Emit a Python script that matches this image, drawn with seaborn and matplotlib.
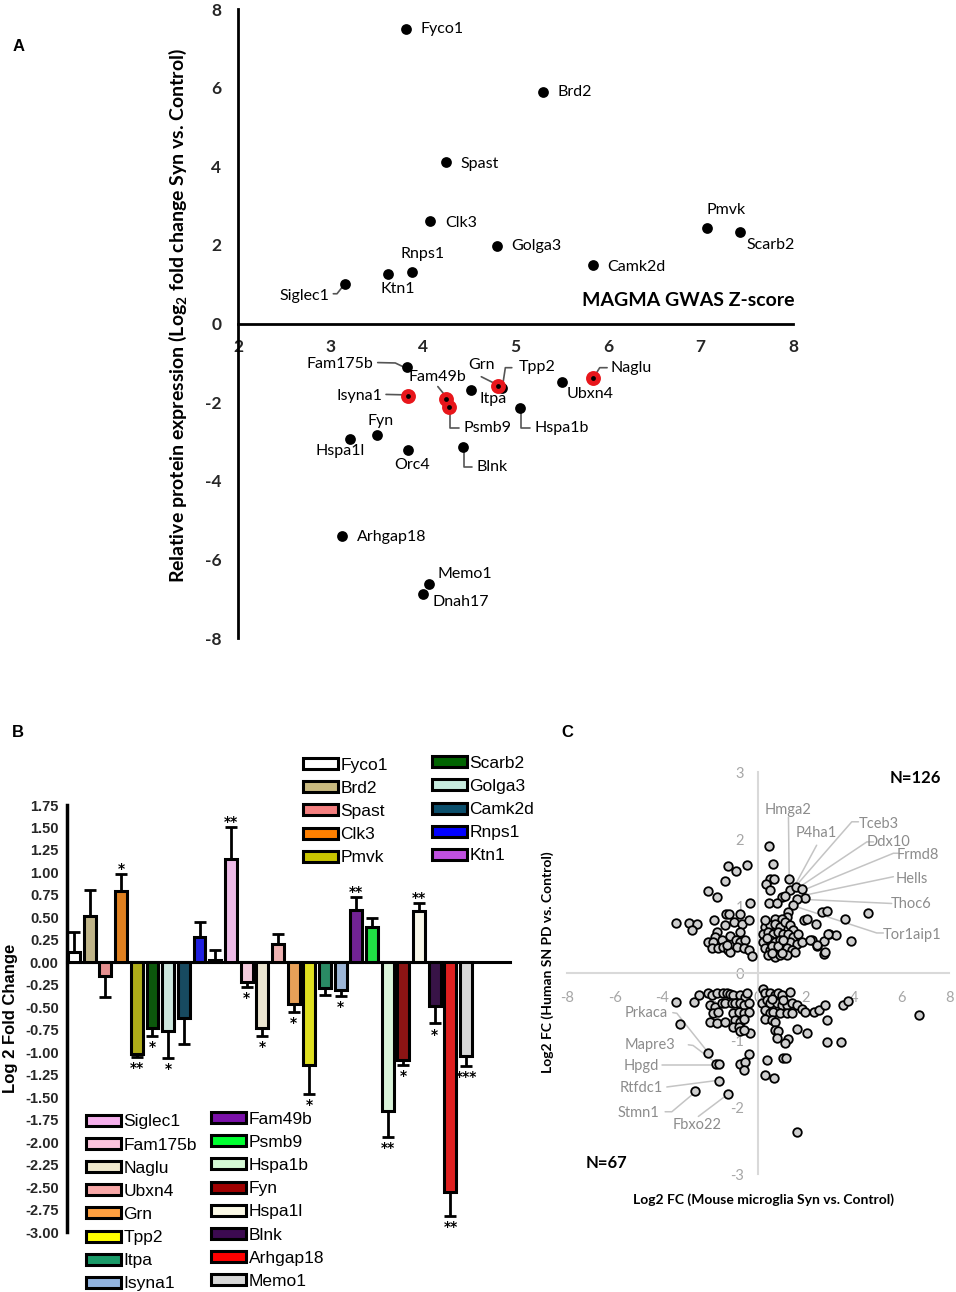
import numpy as np
import pandas as pd
import matplotlib
matplotlib.use('Agg')
import matplotlib.pyplot as plt
from matplotlib.patches import Patch
import seaborn as sns

# ------------------ Panel A data: MAGMA Z-score vs log2 FC ------------------
a_genes = ['Fyco1', 'Brd2', 'Spast', 'Clk3', 'Golga3', 'Camk2d', 'Pmvk', 'Scarb2',
           'Rnps1', 'Ktn1', 'Siglec1', 'Fam175b', 'Isyna1', 'Fam49b', 'Psmb9', 'Itpa',
           'Grn', 'Tpp2', 'Ubxn4', 'Naglu', 'Hspa1b', 'Fyn', 'Hspa1l', 'Orc4', 'Blnk',
           'Arhgap18', 'Memo1', 'Dnah17']
a_z = [3.82, 5.30, 4.25, 4.08, 4.80, 5.84, 7.07, 7.43,
       3.88, 3.62, 3.16, 3.83, 3.84, 4.25, 4.28, 4.52,
       4.81, 4.85, 5.50, 5.84, 5.05, 3.50, 3.21, 3.84, 4.43,
       3.12, 4.06, 4.00]
a_fc = [7.48, 5.90, 4.10, 2.60, 1.98, 1.48, 2.44, 2.32,
        1.32, 1.25, 1.02, -1.09, -1.83, -1.91, -2.11, -1.70,
        -1.58, -1.63, -1.48, -1.37, -2.14, -2.82, -2.93, -3.21, -3.13,
        -5.39, -6.62, -6.87]
a_red = ['Isyna1', 'Fam49b', 'Psmb9', 'Grn', 'Naglu']

# ------------------ Panel B data: log2 fold change bars ------------------
b_genes = ['Fyco1', 'Brd2', 'Spast', 'Clk3', 'Pmvk', 'Scarb2', 'Golga3', 'Camk2d',
           'Rnps1', 'Ktn1', 'Siglec1', 'Fam175b', 'Naglu', 'Ubxn4', 'Grn', 'Tpp2',
           'Itpa', 'Isyna1', 'Fam49b', 'Psmb9', 'Hspa1b', 'Fyn', 'Hspa1l', 'Blnk',
           'Arhgap18', 'Memo1']
b_values = [0.12, 0.52, -0.15, 0.79, -1.02, -0.73, -0.76, -0.62,
            0.28, 0.03, 1.15, -0.22, -0.73, 0.20, -0.46, -1.14,
            -0.28, -0.31, 0.58, 0.39, -1.65, -1.09, 0.57, -0.48,
            -2.56, -1.04]
b_err = [0.22, 0.28, 0.24, 0.19, 0.03, 0.09, 0.30, 0.29,
         0.17, 0.11, 0.36, 0.05, 0.09, 0.11, 0.09, 0.32,
         0.08, 0.06, 0.15, 0.10, 0.29, 0.05, 0.09, 0.20,
         0.26, 0.11]
b_stars = ['', '', '', '*', '**', '*', '*', '',
           '', '', '**', '*', '*', '', '*', '*',
           '', '*', '**', '', '**', '*', '**', '*',
           '**', '***']
b_colors = ['#ffffff', '#c8b97f', '#f48080', '#ff8000', '#c8c400', '#006400', '#c8ecdf', '#0b4f6c',
            '#0000ff', '#c050e0', '#f5b0ec', '#fbc3dc', '#efe8cc', '#f8a8a8', '#ffa040', '#ffff00',
            '#1a9a68', '#92b4e0', '#7a10a8', '#00ff30', '#d4f8d4', '#a00000', '#fbf9e6', '#3c0a50',
            '#ff0000', '#d8d8d8']

# ------------------ Panel C data: mouse vs human log2 FC ------------------
c_x = [-3.43, -2.90, -2.57, -2.77, -2.11, -1.73, -1.37, -1.24, -0.93, -0.47, -0.33,
       -1.84, -1.34, -1.20, -0.75, -1.00, -0.68, -0.40, -1.38,
       -0.75, -1.73, -1.80, -1.17, -2.08, -1.87, -1.52, -0.94, -0.75, -0.54,
       -1.94, -1.66, -1.45, -1.24, -1.17, -0.89, -0.61, -0.40, -0.26, -1.31,
       0.47, 0.64, 0.50, 0.66, 0.33, 1.31, 1.34, 1.59, 1.83, 1.97, 1.62, 1.00, 0.50,
       0.47, 0.78, 1.13, 1.48, 1.27, 1.20, 1.90, 2.04, 2.43, 2.66, 2.87, 3.64, 4.60,
       2.95, 3.25, 2.25, 2.74, 3.88, 2.46, 2.77,
       0.71, 0.99, 0.29, 0.50, 0.71, 0.92, 1.13, 1.34, 1.48,
       0.22, 0.43, 0.64, 0.85, 1.06, 1.27, 1.48, 1.69,
       0.22, 0.50, 0.71, 0.92, 1.13, 1.34, 1.62, 1.83,
       0.29, 0.50, 0.78, 0.99, 1.20, 1.41, 1.55,
       0.43, 0.71, 0.92, 1.20, 2.18, 2.46, 2.80, 2.94,
       0.36, 0.57, 0.85, 1.06, 0.30, 0.60, 1.00,
       -3.44, -3.26, -2.70, -2.47,
       -2.08, -1.94, -1.73, -1.45, -1.31, -1.17, -1.03, -0.75, -0.54, -0.47,
       -2.01, -1.80, -1.52, -1.38, -1.10, -0.96, -0.75, -0.61, -0.40,
       -1.87, -1.66, -1.03, -0.82, -0.61, -0.40,
       -2.01, -1.73, -1.38, -0.96, -0.75, -0.61,
       -1.03, -0.82, -0.75, -0.33, -0.61,
       -0.40, -0.75, -0.54, -0.61,
       -2.08, -1.76, -1.62, -1.63, -2.64, -1.24,
       0.22, 0.29, 0.50, 0.71, 0.85, 0.99, 1.34,
       0.15, 0.36, 0.50, 0.78, 0.99, 1.20, 1.41, 1.62,
       1.83, 1.97, 2.32, 2.53, 2.80, 3.57, 3.78,
       0.29, 0.50, 0.64, 0.92, 1.20, 1.41,
       0.29, 0.57, 0.71, 2.87,
       0.71, 0.85, 1.62, 2.04,
       0.78, 1.27, 1.13, 2.87, 3.47,
       0.36, 1.03, 1.18, 0.29, 0.68,
       6.75, 1.62, 0.60, 1.05]
c_y = [0.75, 0.75, 0.74, 0.65, 1.23, 1.13, 1.38, 1.60, 1.53, 1.62, 1.04,
       0.79, 0.89, 0.89, 0.89, 0.77, 0.74, 0.79, 0.72,
       0.62, 0.62, 0.54, 0.56, 0.47, 0.47, 0.49, 0.49, 0.47, 0.49,
       0.37, 0.37, 0.39, 0.34, 0.32, 0.39, 0.37, 0.34, 0.25, 0.42,
       1.90, 1.63, 1.41, 1.40, 1.33, 1.41, 1.24, 1.29, 1.26, 1.12, 1.10, 1.13, 1.24,
       1.04, 1.04, 1.15, 1.01, 0.91, 0.84, 0.79, 0.81, 0.74, 0.92, 0.93, 0.81, 0.90,
       0.59, 0.57, 0.49, 0.48, 0.48, 0.40, 0.29,
       0.81, 0.81, 0.69, 0.72, 0.74, 0.69, 0.76, 0.72, 0.64,
       0.59, 0.62, 0.59, 0.62, 0.59, 0.59, 0.54, 0.59,
       0.47, 0.49, 0.47, 0.49, 0.44, 0.47, 0.44, 0.47,
       0.37, 0.34, 0.37, 0.34, 0.37, 0.34, 0.32,
       0.27, 0.24, 0.27, 0.27, 0.49, 0.42, 0.32, 0.59,
       0.53, 0.40, 0.41, 0.50, 0.80, 0.30, 0.30,
       -0.43, -0.76, -0.43, -0.33,
       -0.30, -0.33, -0.30, -0.29, -0.30, -0.31, -0.33, -0.33, -0.35, -0.30,
       -0.48, -0.50, -0.44, -0.45, -0.44, -0.45, -0.44, -0.48, -0.45,
       -0.60, -0.58, -0.60, -0.58, -0.60, -0.58,
       -0.73, -0.74, -0.73, -0.70, -0.73, -0.68,
       -0.80, -0.80, -0.86, -0.89, -0.85,
       -1.21, -1.35, -1.33, -1.44,
       -1.20, -1.36, -1.35, -1.61, -1.76, -1.80,
       -0.23, -0.30, -0.30, -0.33, -0.30, -0.33, -0.28,
       -0.44, -0.40, -0.45, -0.45, -0.48, -0.48, -0.45, -0.48,
       -0.53, -0.58, -0.58, -0.55, -0.48, -0.48, -0.41,
       -0.55, -0.60, -0.58, -0.60, -0.60, -0.60,
       -0.68, -0.70, -0.73, -0.70,
       -0.85, -0.87, -0.84, -0.90,
       -0.97, -0.99, -1.04, -1.03, -1.03,
       -1.30, -1.26, -1.26, -1.52, -1.57,
       -0.63, -2.37, -0.38, -0.40]

# labelled genes in panel C: (text, text position, leader line points)
c_labels = [
    ('Hmga2', (1.27, 2.43), [(1.27, 2.33), (1.30, 1.43)]),
    ('P4ha1', (2.45, 2.09), [(2.45, 1.91), (1.51, 1.29)]),
    ('Tceb3', (5.03, 2.23), [(4.20, 2.26), (3.92, 2.26), (1.55, 1.29)]),
    ('Ddx10', (5.45, 1.96), [(4.83, 1.96), (4.55, 1.96), (1.62, 1.26)]),
    ('Frmd8', (6.70, 1.77), [(5.87, 1.79), (5.66, 1.79), (1.83, 1.23)]),
    ('Hells', (6.43, 1.41), [(5.66, 1.44), (1.90, 1.16)]),
    ('Thoc6', (6.39, 1.03), [(5.59, 1.04), (1.97, 1.10)]),
    ('Tor1aip1', (6.43, 0.57), [(5.24, 0.60), (4.96, 0.60), (1.62, 0.99)]),
    ('Prkaca', (-4.66, -0.59), [(-3.57, -0.59), (-3.40, -0.60), (-2.08, -1.19)]),
    ('Mapre3', (-4.52, -1.07), [(-2.92, -1.07), (-2.72, -1.08), (-1.76, -1.34)]),
    ('Hpgd', (-4.87, -1.39), [(-4.03, -1.37), (-1.73, -1.37)]),
    ('Rtfdc1', (-4.87, -1.71), [(-3.82, -1.70), (-1.66, -1.60)]),
    ('Stmn1', (-5.00, -2.09), [(-3.89, -2.07), (-3.61, -2.07), (-2.71, -1.80)]),
    ('Fbxo22', (-2.56, -2.27), [(-2.50, -2.14), (-1.31, -1.82)]),
]

# ------------------ style ------------------
sns.set_style('white')
plt.rcParams['font.family'] = ['Lato', 'DejaVu Sans']
plt.rcParams['axes.edgecolor'] = 'black'
plt.rcParams['text.color'] = 'black'
plt.rcParams['axes.unicode_minus'] = False

fig = plt.figure(figsize=(9.56, 12.92), dpi=100)

# =================== Panel A ===================
ax_a = fig.add_axes([0.249, 0.506, 0.5805, 0.487])
df_a = pd.DataFrame({'gene': a_genes, 'z': a_z, 'fc': a_fc})
sns.scatterplot(data=df_a, x='z', y='fc', color='black', s=60, edgecolor='black',
                linewidth=0, ax=ax_a, legend=False, zorder=3)
df_red = df_a[df_a['gene'].isin(a_red)]
sns.scatterplot(data=df_red, x='z', y='fc', color='#e8161b', s=115, linewidth=0,
                ax=ax_a, legend=False, zorder=4)
sns.scatterplot(data=df_red, x='z', y='fc', color='black', s=12, linewidth=0,
                ax=ax_a, legend=False, zorder=5)

ax_a.set_xlim(2, 8)
ax_a.set_ylim(-8, 8)
ax_a.spines['top'].set_visible(False)
ax_a.spines['right'].set_visible(False)
ax_a.spines['bottom'].set_position(('data', 0))
for sp in ['left', 'bottom']:
    ax_a.spines[sp].set_linewidth(2)
ax_a.set_xticks(range(2, 9))
ax_a.set_xticklabels([str(t) for t in range(2, 9)], fontweight='bold', fontsize=12.5)
ax_a.set_yticks(range(-8, 9, 2))
ax_a.set_yticklabels([str(t) for t in range(-8, 9, 2)], fontweight='bold', fontsize=12.5)
ax_a.tick_params(axis='x', direction='in', length=7, width=2, pad=11)
ax_a.tick_params(axis='y', direction='in', length=7, width=2, pad=12)
ax_a.set_xlabel('')
ax_a.set_ylabel('')

# gene label positions (text anchor, alignment)
a_label_pos = {
    'Fyco1': (3.97, 7.48, 'left'), 'Brd2': (5.45, 5.90, 'left'), 'Spast': (4.40, 4.07, 'left'),
    'Clk3': (4.24, 2.57, 'left'), 'Golga3': (4.95, 1.98, 'left'), 'Camk2d': (5.99, 1.45, 'left'),
    'Pmvk': (7.28, 2.90, 'center'), 'Scarb2': (7.76, 2.01, 'center'), 'Rnps1': (4.00, 1.78, 'center'),
    'Ktn1': (3.73, 0.89, 'center'), 'Siglec1': (2.99, 0.71, 'right'), 'Fam175b': (3.46, -1.02, 'right'),
    'Isyna1': (3.56, -1.83, 'right'), 'Fam49b': (4.15, -1.35, 'center'), 'Grn': (4.63, -1.04, 'center'),
    'Tpp2': (5.03, -1.09, 'left'), 'Naglu': (6.03, -1.12, 'left'), 'Itpa': (4.61, -1.91, 'left'),
    'Ubxn4': (5.55, -1.78, 'left'), 'Psmb9': (4.44, -2.65, 'left'), 'Hspa1b': (5.21, -2.65, 'left'),
    'Fyn': (3.54, -2.47, 'center'), 'Hspa1l': (3.10, -3.23, 'center'), 'Orc4': (3.88, -3.59, 'center'),
    'Blnk': (4.58, -3.64, 'left'), 'Arhgap18': (3.29, -5.42, 'left'), 'Memo1': (4.16, -6.36, 'left'),
    'Dnah17': (4.10, -7.07, 'left'),
}
for g in a_genes:
    tx, ty, ha = a_label_pos[g]
    ax_a.text(tx, ty, g, ha=ha, va='center', fontsize=11.5, color='black')

a_leaders = [
    [(3.03, 0.76), (3.07, 0.76), (3.14, 0.97)],
    [(3.51, -0.99), (3.70, -1.00), (3.78, -1.09)],
    [(3.60, -1.80), (3.79, -1.81)],
    [(4.16, -1.60), (4.25, -1.86)],
    [(4.63, -1.35), (4.80, -1.55)],
    [(4.86, -1.58), (4.89, -1.12), (4.96, -1.12)],
    [(5.85, -1.35), (5.91, -1.12), (5.99, -1.12)],
    [(4.29, -2.19), (4.29, -2.65), (4.39, -2.65)],
    [(5.06, -2.21), (5.06, -2.65), (5.16, -2.65)],
    [(4.44, -3.21), (4.44, -3.64), (4.53, -3.64)],
]
for pts in a_leaders:
    xs, ys = zip(*pts)
    ax_a.plot(xs, ys, color='#555555', lw=1.2, zorder=2)

ax_a.text(8.02, 0.59, 'MAGMA GWAS Z-score', ha='right', va='center',
          fontsize=14, fontweight='bold')
fig.text(0.186, 0.756, 'Relative protein expression (Log$_\\mathregular{2}$ fold change Syn vs. Control)',
         rotation=90, ha='center', va='center', fontsize=14, fontweight='bold')

# =================== Panel B ===================
ax_b = fig.add_axes([0.0701, 0.0464, 0.4634, 0.3305])
df_b = pd.DataFrame({'gene': b_genes, 'value': b_values, 'err': b_err, 'stars': b_stars})
sns.barplot(data=df_b, x='gene', y='value', hue='gene', order=b_genes,
            palette=dict(zip(b_genes, b_colors)), legend=False, width=0.76,
            edgecolor='black', linewidth=2.2, ax=ax_b, zorder=3)
pos = np.arange(len(b_genes))
vals = df_b['value'].to_numpy()
errs = df_b['err'].to_numpy()
lower = np.where(vals < 0, errs, 0)
upper = np.where(vals >= 0, errs, 0)
ax_b.errorbar(pos, vals, yerr=[lower, upper], fmt='none', ecolor='black',
              elinewidth=2, capsize=4, capthick=2, zorder=2)
# significance stars just beyond the error bar end
for i, (v, e, s) in enumerate(zip(vals, errs, b_stars)):
    if not s:
        continue
    y = v + e + 0.01 if v >= 0 else v - e - 0.17
    ax_b.text(i, y, s, ha='center', va='baseline', fontsize=10,
              fontweight='bold', family='DejaVu Sans')

ax_b.set_xlim(-0.45, 27.8)
ax_b.set_ylim(-3.0, 1.75)
ax_b.spines['top'].set_visible(False)
ax_b.spines['right'].set_visible(False)
ax_b.spines['bottom'].set_position(('data', 0))
ax_b.spines['bottom'].set_linewidth(2.2)
ax_b.spines['left'].set_linewidth(2.5)
ax_b.set_xticks([])
b_ticks = np.arange(-3.0, 1.76, 0.25)
ax_b.set_yticks(b_ticks)
ax_b.set_yticklabels([f'{t:.2f}' for t in b_ticks], fontweight='bold', fontsize=10.5,
                     family=['Liberation Sans', 'DejaVu Sans'])
ax_b.tick_params(axis='y', direction='out', length=5, width=2, pad=1)
ax_b.set_xlabel('')
ax_b.set_ylabel('')
fig.text(0.011, 0.212, 'Log 2 Fold Change', rotation=90, ha='center', va='center',
         fontsize=12, fontweight='bold', family=['Liberation Sans', 'DejaVu Sans'])

# legends for panel B, four columns
handles = [Patch(facecolor=c, edgecolor='black', linewidth=2.2, label=g)
           for g, c in zip(b_genes, b_colors)]
groups = [(handles[0:5], (0.317, 0.4135)), (handles[5:10], (0.452, 0.4150)),
          (handles[10:18], (0.090, 0.1375)), (handles[18:26], (0.221, 0.1395))]
for hs, anchor in groups:
    fig.legend(handles=hs, loc='upper left', bbox_to_anchor=anchor, frameon=False,
               handlelength=2.0, handleheight=0.6, labelspacing=0.47,
               handletextpad=0.15, borderpad=0, borderaxespad=0,
               prop={'family': ['Liberation Sans', 'DejaVu Sans'], 'size': 12.5})

# =================== Panel C ===================
ax_c = fig.add_axes([0.593, 0.0913, 0.400, 0.311])
df_c = pd.DataFrame({'mouse': c_x, 'human': c_y})
sns.scatterplot(data=df_c, x='mouse', y='human', color='#cfcfcf', edgecolor='black',
                s=38, linewidth=1.3, ax=ax_c, legend=False, zorder=3)
ax_c.set_xlim(-8, 8)
ax_c.set_ylim(-3, 3)
ax_c.spines['top'].set_visible(False)
ax_c.spines['right'].set_visible(False)
for sp in ['left', 'bottom']:
    ax_c.spines[sp].set_position(('data', 0))
    ax_c.spines[sp].set_color('#d9d9d9')
    ax_c.spines[sp].set_linewidth(1.5)
ax_c.set_xticks(range(-8, 9, 2))
ax_c.set_yticks(range(-3, 4))
ax_c.tick_params(axis='x', length=0, pad=13, labelsize=10.5, labelcolor='#a6a6a6')
ax_c.tick_params(axis='y', length=0, pad=10, labelsize=10.5, labelcolor='#a6a6a6')
ax_c.set_xlabel('')
ax_c.set_ylabel('')
for text, (tx, ty), pts in c_labels:
    xs, ys = zip(*pts)
    ax_c.plot(xs, ys, color='#c4c4c4', lw=1.1, zorder=2)
    ax_c.text(tx, ty, text, ha='center', va='center', fontsize=10.5, color='#8c8c8c')
ax_c.text(6.57, 2.91, 'N=126', ha='center', va='center', fontsize=12, fontweight='bold')
ax_c.text(-6.33, -2.84, 'N=67', ha='center', va='center', fontsize=12, fontweight='bold')
fig.text(0.573, 0.2554, 'Log2 FC (Human SN PD vs. Control)', rotation=90, ha='center',
         va='center', fontsize=10, fontweight='bold')
fig.text(0.799, 0.0712, 'Log2 FC (Mouse microglia Syn vs. Control)', ha='center',
         va='center', fontsize=10, fontweight='bold')

# panel letters
for letter, x, y in [('A', 0.019, 0.964), ('B', 0.019, 0.433), ('C', 0.593, 0.433)]:
    fig.text(x, y, letter, ha='center', va='center', fontsize=12, fontweight='bold',
             family=['Liberation Sans', 'DejaVu Sans'])

fig.savefig('out.png', dpi=100)
